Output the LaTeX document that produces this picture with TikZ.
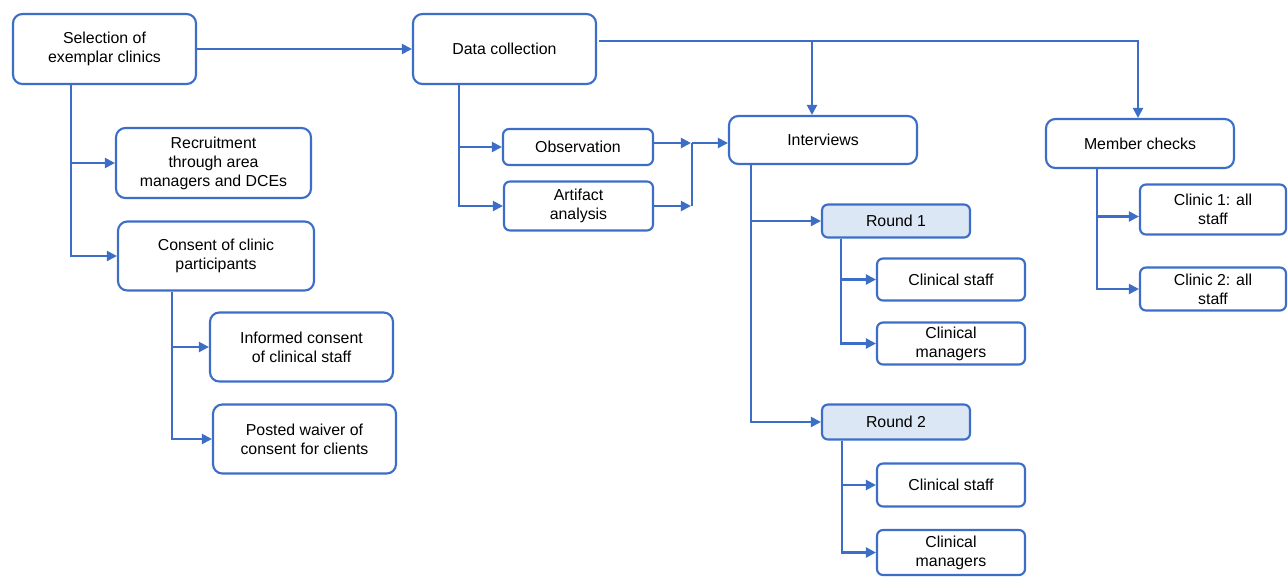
\documentclass[tikz,border=0pt]{standalone}
\usepackage{fontspec}
\setmainfont{Liberation Sans}
\usetikzlibrary{arrows.meta,calc}
\definecolor{lineblue}{RGB}{60,110,200}
\definecolor{roundfill}{RGB}{220,231,245}
\begin{document}
\begin{tikzpicture}[x=0.75pt,y=-0.75pt,
  sz/.style 2 args={minimum width=#1*0.75pt, minimum height=#2*0.75pt},
  box/.style={draw=lineblue, line width=1.6pt, fill=white, rounded corners=7pt,
    inner sep=1pt, align=center, font=\fontsize{11.9}{14.3}\selectfont},
  sbox/.style={box, rounded corners=4.5pt},
  rbox/.style={sbox, fill=roundfill},
  conn/.style={draw=lineblue, line width=1.6pt},
  arr/.style={conn, -{Triangle[length=7.5pt,width=7.5pt]}}]
\useasboundingbox (0,0) rectangle (1288,576);

% nodes
\node[box, sz={183}{70}] (sel) at (104.5,49) {Selection of\\exemplar clinics};
\node[box, sz={183}{70}] (dc) at (504.5,49) {Data collection};
\node[box, sz={195}{70}] (rec) at (213.5,163) {Recruitment\\through area\\managers and DCEs};
\node[box, sz={196}{69}] (con) at (216,256) {Consent of clinic\\participants};
\node[box, sz={183}{69}] (inf) at (301.5,347) {Informed consent\\of clinical staff};
\node[box, sz={183}{69}] (pos) at (304.5,439) {Posted waiver of\\consent for clients};
\node[sbox, sz={150}{36}] (obs) at (578,147) {Observation};
\node[sbox, sz={149}{49}] (art) at (578.5,206) {Artifact\\analysis};
\node[box, sz={188}{48}] (int) at (823,140) {Interviews};
\node[box, sz={188}{49}] (mem) at (1140,143.5) {Member checks};
\node[rbox, sz={148}{33}] (r1) at (896,221) {Round 1};
\node[sbox, sz={148}{42}] (cs1) at (951,279.5) {Clinical staff};
\node[sbox, sz={148}{42}] (cm1) at (951,343.5) {Clinical\\managers};
\node[rbox, sz={148}{35}] (r2) at (896,422) {Round 2};
\node[sbox, sz={148}{43}] (cs2) at (951,485) {Clinical staff};
\node[sbox, sz={148}{45}] (cm2) at (951,552.5) {Clinical\\managers};
\node[sbox, sz={146}{50}] (cl1) at (1213,209.5) {Clinic 1: all\\staff};
\node[sbox, sz={146}{43}] (cl2) at (1213,289) {Clinic 2: all\\staff};

% trunk coordinates
\coordinate (tsel) at ($(sel.south west)+(59,0)$);
\coordinate (tcon) at ($(con.south west)+(55,0)$);
\coordinate (tdc) at ($(dc.south west)+(47,0)$);
\coordinate (tint) at ($(int.south west)+(23,0)$);
\coordinate (tr1) at ($(r1.south west)+(20,0)$);
\coordinate (tr2) at ($(r2.south west)+(21,0)$);
\coordinate (tmem) at ($(mem.south west)+(52,0)$);
\coordinate (cl1in) at ($(cl1.west)+(0,7)$);

% connectors
\draw[arr] (sel) -- (dc);
\draw[arr] (tsel) |- (con.west);
\draw[arr] (tsel |- rec.west) -- (rec.west);
\draw[arr] (tcon) |- (pos.west);
\draw[arr] (tcon |- inf.west) -- (inf.west);

\coordinate (top) at ($(dc.north east)+(2,28)$);
\draw[arr] (top) -| ($(mem.north)+(-2,0)$);
\draw[arr] (top -| {$(int.north)+(-11,0)$}) -- ($(int.north)+(-11,0)$);

\draw[arr] (tdc) |- (art.west);
\draw[arr] (tdc |- obs.west) -- (obs.west);
\coordinate (mj) at ($(int.west)+(-36,3)$);
\draw[arr] (obs.east |- mj) -- ($(mj)+(-1,0)$);
\draw[arr] (art.east) -- ($(art.east -| mj)+(-1,0)$);
\draw[conn] (mj) -- (mj |- art.east);
\draw[arr] (mj) -- (mj -| int.west);

\draw[arr] (tint) |- (r2.west);
\draw[arr] (tint |- r1.west) -- (r1.west);
\draw[arr] (tr1) |- (cm1.west);
\draw[arr] (tr1 |- cs1.west) -- (cs1.west);
\draw[arr] (tr2) |- (cm2.west);
\draw[arr] (tr2 |- cs2.west) -- (cs2.west);
\draw[arr] (tmem) |- (cl2.west);
\draw[arr] (tmem |- cl1in) -- (cl1in);
\end{tikzpicture}
\end{document}
